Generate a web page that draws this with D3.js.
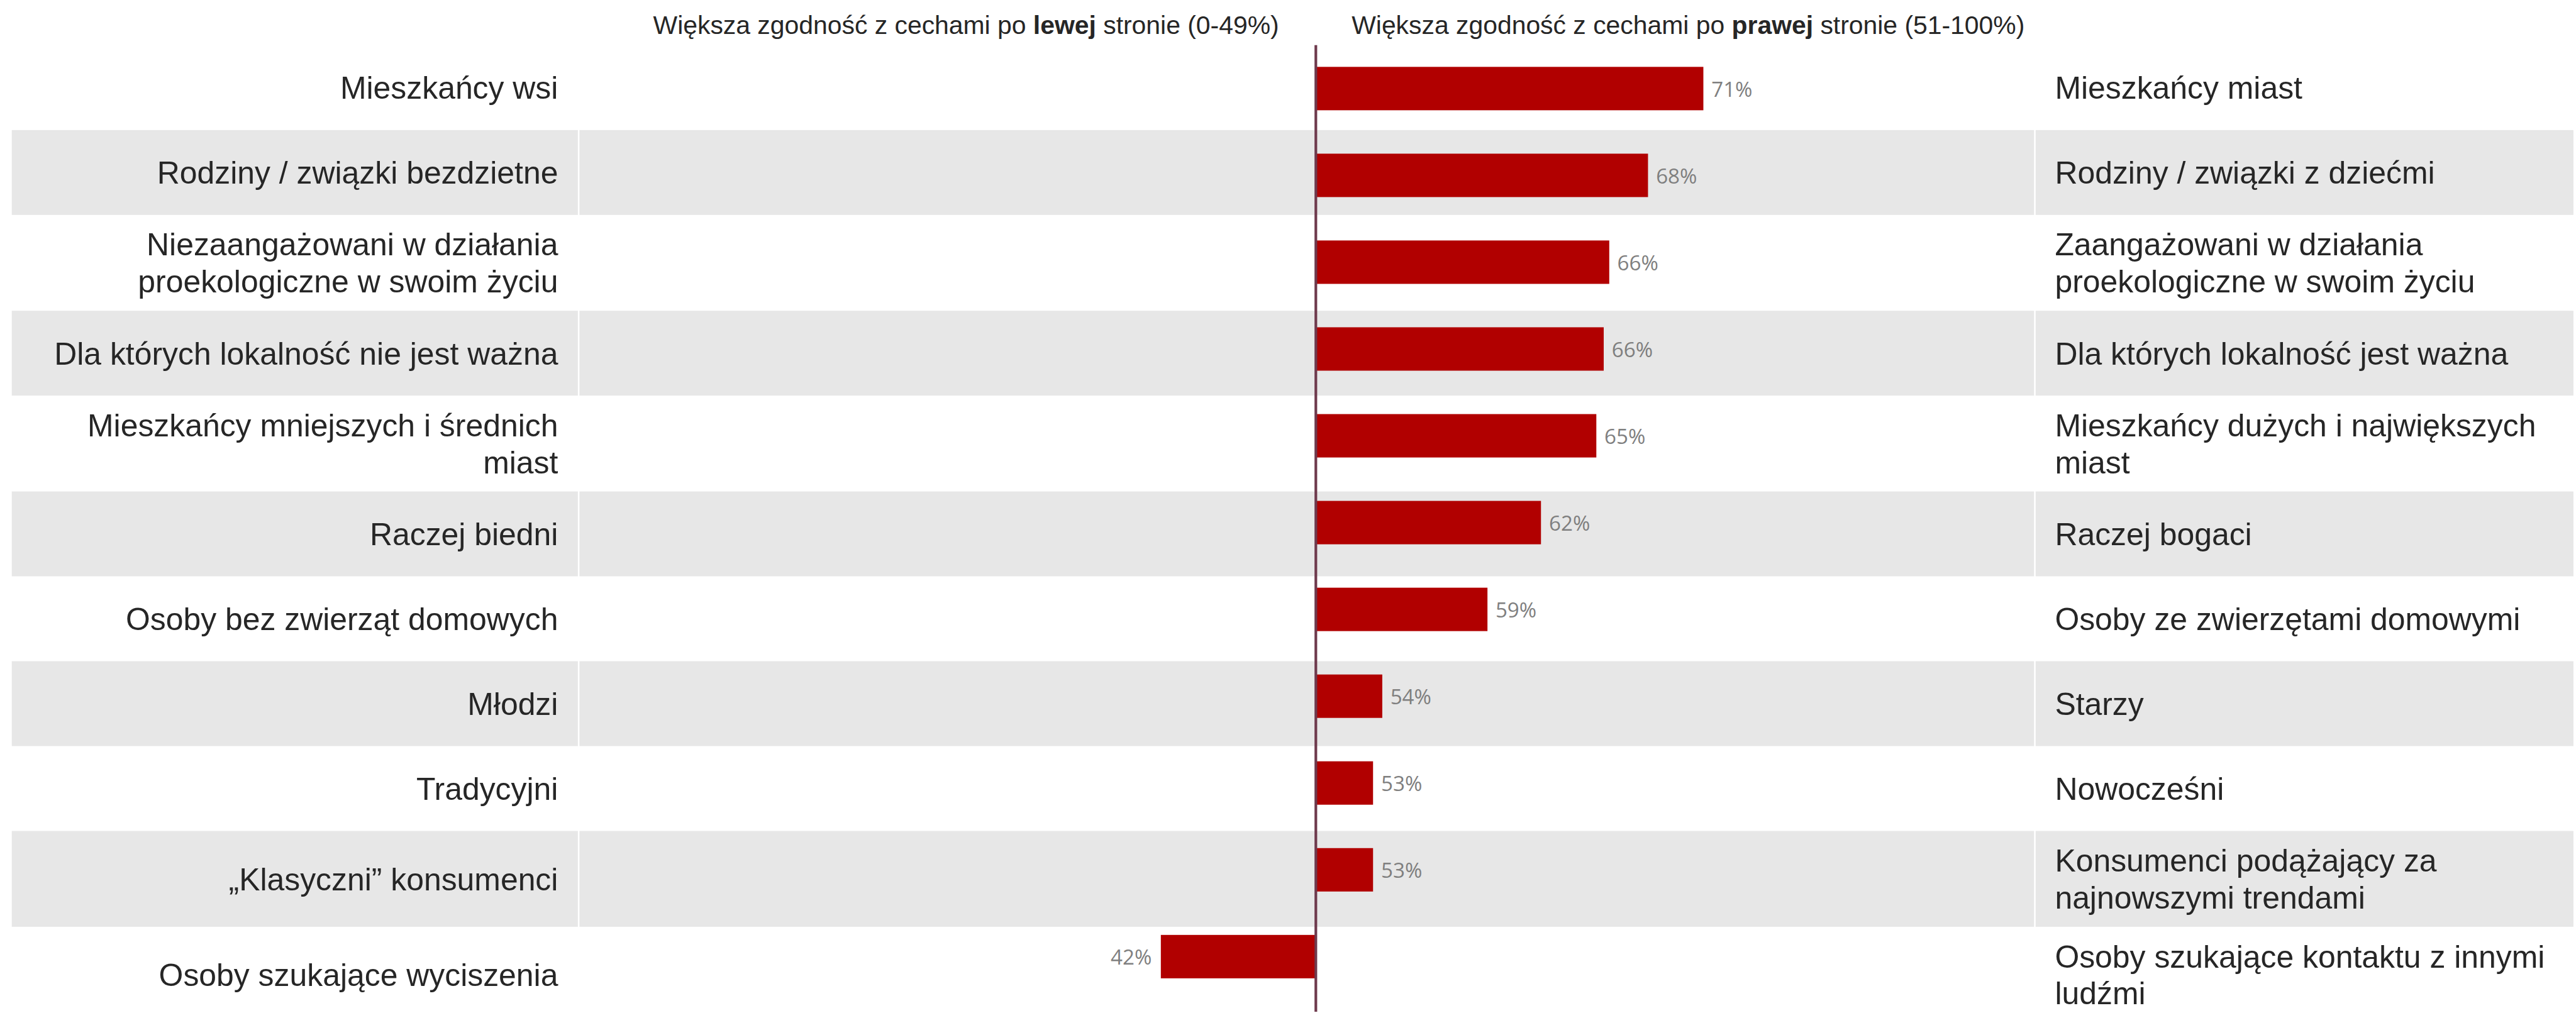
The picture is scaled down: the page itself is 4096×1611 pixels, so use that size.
<!DOCTYPE html>
<html>
<head>
<meta charset="utf-8">
<script src="https://cdn.jsdelivr.net/npm/d3@7"></script>
<style>
  html, body { margin: 0; padding: 0; background: #fff; }
  svg { display: block; }
  text { white-space: pre; }
</style>
</head>
<body>
<div id="chart"></div>
<script>
// categories, left side and right side (one entry per line of text)
var leftLabels = [
  ["Mieszkańcy wsi"],
  ["Rodziny / związki bezdzietne"],
  ["Niezaangażowani w działania", "proekologiczne w swoim życiu"],
  ["Dla których lokalność nie jest ważna"],
  ["Mieszkańcy mniejszych i średnich", "miast"],
  ["Raczej biedni"],
  ["Osoby bez zwierząt domowych"],
  ["Młodzi"],
  ["Tradycyjni"],
  ["„Klasyczni” konsumenci"],
  ["Osoby szukające wyciszenia"]
];

var rightLabels = [
  ["Mieszkańcy miast"],
  ["Rodziny / związki z dziećmi"],
  ["Zaangażowani w działania", "proekologiczne w swoim życiu"],
  ["Dla których lokalność jest ważna"],
  ["Mieszkańcy dużych i największych", "miast"],
  ["Raczej bogaci"],
  ["Osoby ze zwierzętami domowymi"],
  ["Starzy"],
  ["Nowocześni"],
  ["Konsumenci podążający za", "najnowszymi trendami"],
  ["Osoby szukające kontaktu z innymi", "ludźmi"]
];

// share (%) matching the right-hand side
var values = [71.0, 68.0, 65.9, 65.6, 65.2, 62.2, 59.3, 53.6, 53.1, 53.1, 41.6];

var midpoint = 50;

var headerLeft = ["Większa zgodność z cechami po ", "lewej", " stronie (0-49%)"];
var headerRight = ["Większa zgodność z cechami po ", "prawej", " stronie (51-100%)"];

// everything below is laid out at reference size, then scaled
var k = 0.85;
var W = 4814, H = 1893;
var top0 = 84.5;
var lineH = 69, capH = 42;

var svg = d3.select("#chart").append("svg")
  .attr("width", 4096)
  .attr("height", 1611);

var g = svg.append("g")
  .attr("transform", "scale(" + k + ")");

var x = d3.scaleLinear()
  .domain([0, 100])
  .range([735.5, 4187.5]);

var y = d3.scaleBand()
  .domain(d3.range(values.length))
  .range([top0, 1871])
  .paddingInner(0.5)
  .paddingOuter(0.25);

// table rows: taller where a label wraps onto two lines
var rows = [];
var acc = top0;
leftLabels.forEach(function(l, i) {
  var n = Math.max(l.length, rightLabels[i].length);
  var h = Math.max(158.8, n * lineH + 41.3);
  rows.push({ i: i, y0: acc, h: h });
  acc += h;
});

var cols = [[22, 1081], [1084, 3805], [3808, W]];

var band = g.selectAll(".band")
  .data(rows.filter(function(d) { return d.i % 2 == 1; }))
  .enter().append("g")
  .attr("class", "band");

band.selectAll("rect")
  .data(function(d) { return cols.map(function(c) { return { c: c, r: d }; }); })
  .enter().append("rect")
  .attr("x", function(d) { return d.c[0]; })
  .attr("width", function(d) { return d.c[1] - d.c[0]; })
  .attr("y", function(d) { return d.r.y0; })
  .attr("height", function(d) { return d.r.h; })
  .attr("fill", "#e7e7e7");

// headers
function header(parts, xpos, anchor) {
  var t = g.append("text")
    .attr("x", xpos)
    .attr("y", 63)
    .attr("text-anchor", anchor)
    .attr("font-family", "'Liberation Sans', Arial, sans-serif")
    .attr("font-size", 48.1)
    .attr("fill", "#262626");
  parts.forEach(function(p, j) {
    t.append("tspan")
      .attr("font-weight", j == 1 ? "bold" : "normal")
      .text(p);
  });
}
header(headerLeft, x(midpoint) - 69, "end");
header(headerRight, x(midpoint) + 67, "start");

// row labels
function labels(data, xpos, anchor) {
  var t = g.selectAll(null)
    .data(data)
    .enter().append("text")
    .attr("text-anchor", anchor)
    .attr("font-family", "'Liberation Sans', Arial, sans-serif")
    .attr("font-size", 58.7)
    .attr("fill", "#262626");
  t.selectAll("tspan")
    .data(function(d, i) {
      var r = rows[i];
      var c = r.y0 + r.h / 2;
      return d.map(function(s, j) {
        return { s: s, y: c + (j - (d.length - 1) / 2) * lineH + capH / 2 };
      });
    })
    .enter().append("tspan")
    .attr("x", xpos)
    .attr("y", function(d) { return d.y; })
    .text(function(d) { return d.s; });
}
labels(leftLabels, 1044, "end");
labels(rightLabels, 3844, "start");

// bars
g.selectAll(".bar")
  .data(values)
  .enter().append("rect")
  .attr("class", "bar")
  .attr("x", function(d) { return x(Math.min(d, midpoint)); })
  .attr("width", function(d) { return Math.abs(x(d) - x(midpoint)); })
  .attr("y", function(d, i) { return y(i); })
  .attr("height", y.bandwidth())
  .attr("fill", "#b10000");

g.selectAll(".val")
  .data(values)
  .enter().append("text")
  .attr("class", "val")
  .attr("x", function(d) { return d >= midpoint ? x(d) + 15 : x(d) - 17; })
  .attr("y", function(d, i) { return y(i) + y.bandwidth() / 2 + 15; })
  .attr("text-anchor", function(d) { return d >= midpoint ? "start" : "end"; })
  .attr("font-family", "'Open Sans', 'DejaVu Sans', sans-serif")
  .attr("font-size", 39)
  .attr("fill", "#7f7f7f")
  .text(function(d) { return Math.round(d) + "%"; });

// 50% line
g.append("line")
  .attr("x1", x(midpoint))
  .attr("x2", x(midpoint))
  .attr("y1", top0)
  .attr("y2", H)
  .attr("stroke", "#6e3a4d")
  .attr("stroke-width", 5);
</script>
</body>
</html>
